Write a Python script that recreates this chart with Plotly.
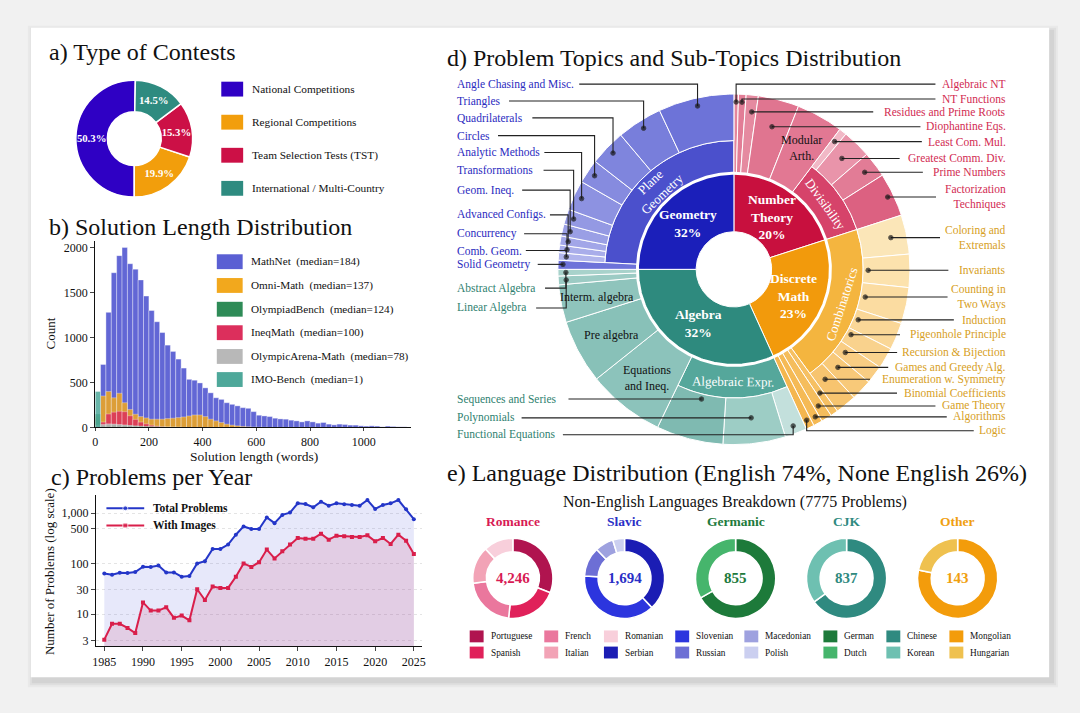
import math
import plotly.graph_objects as go

W, H = 1080, 713
SERIF = "Liberation Serif, Times New Roman, serif"

# ---------------- a) Type of Contests ----------------
contest_types = ["National Competitions", "Regional Competitions",
                 "Team Selection Tests (TST)", "International / Multi-Country"]
contest_share = [50.3, 19.9, 15.3, 14.5]
contest_colors = ["#2f00c4", "#f29e0c", "#cc1046", "#2e8b80"]

# ---------------- b) Solution Length Distribution (20-word bins from 0) ----------------
bin_width = 20
hist_sources = ["MathNet", "Omni-Math", "OlympiadBench", "IneqMath", "OlympicArena-Math", "IMO-Bench"]
hist_medians = [184, 137, 124, 100, 78, 1]
mathnet_counts = [90, 700, 1280, 1720, 1910, 2000, 1820, 1760, 1640, 1460,
                  1300, 1175, 1055, 915, 845, 760, 660, 535, 525, 495,
                  440, 385, 330, 312, 275, 257, 240, 220, 213, 176,
                  136, 128, 121, 103, 95, 92, 81, 73, 62, 73,
                  62, 48, 55, 37, 29, 37, 33, 26, 26, 18,
                  15, 18, 15, 7, 15, 11, 7, 7]
omni_counts = [120, 350, 400, 330, 380, 275, 200, 147, 121, 106,
               92, 92, 92, 99, 103, 110, 117, 128, 139, 139,
               121, 92, 73, 55, 37, 26, 18, 12, 8, 5, 3, 2]
olympiadbench_counts = [150, 20, 28, 30, 28, 26, 22, 18, 15, 12, 10, 8, 6, 5, 4, 3, 2]
ineqmath_counts = [10, 60, 150, 170, 180, 175, 130, 90, 60, 40, 25, 15, 8, 5, 3, 2]
olympicarena_counts = [25, 35, 40, 38, 32, 26, 20, 14, 9, 6, 4, 2]
imobench_counts = [400]
hist_colors = ["#5a5fd3", "#f2a81d", "#2e8b57", "#dc2f5c", "#b8b8b8", "#4ea89a"]

# ---------------- c) Problems per Year ----------------
years = list(range(1985, 2026))
total_problems = [64, 60, 66, 65, 68, 87, 86, 92, 67, 67,
                  55, 57, 101, 112, 196, 196, 239, 375, 547, 485,
                  485, 822, 636, 927, 1030, 1573, 1525, 1312, 1696, 1415,
                  1573, 1502, 1458, 1415, 1830, 1217, 1458, 1573, 1830, 1198, 762]
with_images = [3.1, 6.4, 6.4, 5.3, 4.2, 17, 11.7, 11.7, 13.6, 8.4,
               9.3, 7.5, 31, 19, 35, 33, 33, 55, 101, 86,
               107, 190, 127, 176, 239, 323, 313, 313, 392, 299,
               358, 348, 337, 337, 364, 277, 323, 246, 375, 286, 156]

# ---------------- d) Topics (arc sizes read off the picture) ----------------
topic_names = ["Number Theory", "Discrete Math", "Algebra", "Geometry"]
topic_text = ["Number<br>Theory<br>20%", "Discrete<br>Math<br>23%", "Algebra<br>32%", "Geometry<br>32%"]
sub_topics = ["Algebraic NT", "NT Functions", "Residues and Prime Roots", "Diophantine Eqs.",
              "Modular Arth.", "Least Com. Mul.", "Greatest Comm. Div.", "Prime Numbers",
              "Factorization Techniques",
              "Coloring and Extremals", "Invariants", "Counting in Two Ways", "Induction",
              "Pigeonhole Principle", "Recursion & Bijection", "Games and Greedy Alg.",
              "Enumeration w. Symmetry", "Binomial Coefficients", "Game Theory", "Algorithms", "Logic",
              "Functional Equations", "Polynomials", "Sequences and Series", "Equations and Ineq.",
              "Pre algebra", "Interm. algebra", "Linear Algebra", "Abstract Algebra",
              "Solid Geometry", "Comb. Geom.", "Concurrency", "Advanced Configs.", "Geom. Ineq.",
              "Transformations", "Analytic Methods", "Circles", "Quadrilaterals", "Triangles",
              "Angle Chasing and Misc."]
sub_parent = (["Number Theory"] * 9 + ["Discrete Math"] * 12 + ["Algebra"] * 8 + ["Geometry"] * 11)
sub_group = (["", "", "", "", ""] + ["Divisibility"] * 4
             + ["Combinatorics"] * 8 + ["", "", "", ""]
             + ["Algebraic Expr."] * 3 + ["", "", "", "", ""]
             + [""] + ["Plane Geometry"] * 10)
sub_size = [1.5, 2.5, 4, 13.5, 15.5, 2.5, 9.5, 8.5, 14.5,
            13, 11, 12, 9, 7, 6, 7, 7, 2.5, 3.5, 3, 2.7,
            7.3, 20.6, 22.1, 25.6, 21.1, 12.5, 2.9, 2.2,
            3, 2.5, 2.5, 3, 4, 5, 10, 8, 12, 15, 25]

# ---------------- e) Languages ----------------
lang_groups = ["Romance", "Slavic", "Germanic", "CJK", "Other"]
romance_langs = ["Portuguese", "Spanish", "French", "Italian", "Romanian"]
romance_counts = [1310, 885, 905, 640, 506]
slavic_langs = ["Serbian", "Slovenian", "Russian", "Macedonian", "Polish"]
slavic_counts = [645, 640, 202, 127, 80]
germanic_langs = ["German", "Dutch"]
germanic_counts = [572, 283]
cjk_langs = ["Chinese", "Korean"]
cjk_counts = [544, 293]
other_langs = ["Mongolian", "Hungarian"]
other_counts = [112, 31]

# ---------------- styles ----------------
topic_colors = {"Number Theory": "#c8103e", "Discrete Math": "#f29a0c",
                "Algebra": "#2e8a7e", "Geometry": "#1b1fba"}
group_colors = {"Divisibility": "#d6436a", "Combinatorics": "#f4b53f",
                "Algebraic Expr.": "#55a79b", "Plane Geometry": "#4b50cc"}
leaf_colors = ["#e4869c", "#e27d96", "#e58aa0", "#e07590", "#e27893", "#f1b8c6", "#e994aa",
               "#e27c96", "#dc6181",
               "#fbe6b8", "#fce2ad", "#fbdca1", "#fad797", "#f9d28d", "#f9cd83", "#f8c979",
               "#f7c46f", "#f6c063", "#f5bd5c", "#f5ba55", "#f4b64e",
               "#c3e0dc", "#9dcdc5", "#7fbab1", "#8cc3bb", "#88c1b8", "#8fc4bc", "#9ccbc4", "#a8d2cb",
               "#6d72d9", "#b0b4ec", "#a9adea", "#a2a6e8", "#9a9fe5", "#9499e3", "#8d92e1",
               "#868bdf", "#7f85dd", "#787edb", "#6d73d8"]
label_colors = {"Number Theory": "#d22b52", "Discrete Math": "#d7a024",
                "Algebra": "#2f7f70", "Geometry": "#2b2bc0"}
lang_colors = {"Portuguese": "#b0144f", "Spanish": "#e0215a", "French": "#ea779d",
               "Italian": "#f2a3b6", "Romanian": "#f8cfdb",
               "Serbian": "#1b1db4", "Slovenian": "#2c35de", "Russian": "#6d6fd5",
               "Macedonian": "#9ea1df", "Polish": "#cbcff0",
               "German": "#1d7a3a", "Dutch": "#46b56c", "Chinese": "#2f8a80", "Korean": "#6ec0b1",
               "Mongolian": "#f39c0b", "Hungarian": "#efc14f"}
group_title_colors = ["#d81b55", "#2a2fc6", "#217a3c", "#2f8a80", "#f0a010"]


def px_x(x):
    return x / W


def px_y(y):
    return 1 - y / H


def pie_domain(cx, cy, r):
    return dict(x=[px_x(cx - r), px_x(cx + r)], y=[px_y(cy + r), px_y(cy - r)])


def text_w(s, size):
    w = 0
    for ch in s:
        if ch in " .,:;'!|":
            w += 0.25
        elif ch in "iljft()[]-":
            w += 0.30
        elif ch in "mwMW":
            w += 0.80
        elif ch.isupper():
            w += 0.68
        else:
            w += 0.48
    return w * size


fig = go.Figure()
annotations = []
shapes = []


def label(x, y, text, size=11, color="#111", xanchor="left", bold=False, angle=0, align="left"):
    if bold:
        text = "<b>" + text.replace("<br>", "</b><br><b>") + "</b>"
    annotations.append(dict(x=x, y=y, xref="x3", yref="y3", text=text, showarrow=False,
                            xanchor=xanchor, yanchor="middle", textangle=angle, align=align,
                            font=dict(family=SERIF, size=size, color=color)))


def rect(x0, y0, x1, y1, color, layer="above", line=None):
    shapes.append(dict(type="rect", xref="paper", yref="paper",
                       x0=px_x(x0), x1=px_x(x1), y0=px_y(y1), y1=px_y(y0),
                       fillcolor=color, line=line or dict(width=0), layer=layer))


# card background with a soft shadow
for k, a in enumerate([0.03, 0.04, 0.05]):
    d = 6 - 2 * k
    rect(28 - d + 3, 28 - d + 4, 1052 + d + 3, 684 + d + 4, "rgba(0,0,0,%.2f)" % a, layer="below")
rect(28, 28, 1052, 684, "white", layer="below")

# ---------------- titles ----------------
label(44, 53, "a) Type of Contests", size=24)
label(44, 229, "b) Solution Length Distribution", size=24)
label(46, 482, "c) Problems per Year", size=24)
label(444, 59, "d) Problem Topics and Sub-Topics Distribution", size=24)
label(444, 478, "e) Language Distribution (English 74%, None English 26%)", size=24)

# ---------------- a) donut ----------------
fig.add_trace(go.Pie(labels=contest_types, values=contest_share, sort=False,
                     direction="counterclockwise", rotation=180, hole=0.46,
                     marker=dict(colors=contest_colors, line=dict(color="white", width=1.5)),
                     texttemplate="<b>%{value:.1f}%</b>", textposition="inside",
                     insidetextorientation="horizontal",
                     textfont=dict(family=SERIF, size=11.5, color="white"),
                     domain=pie_domain(132, 140, 59), showlegend=False))
for i, (name, col) in enumerate(zip(contest_types, contest_colors)):
    yc = 90 + i * 33.4
    rect(219.5, yc - 7.5, 241.5, yc + 7.5, col)
    label(248, yc, name, size=11.3)

# ---------------- b) histogram ----------------
draw_order = [0, 1, 3, 2, 4, 5]
for k in draw_order:
    counts = [mathnet_counts, omni_counts, olympiadbench_counts, ineqmath_counts,
              olympicarena_counts, imobench_counts][k]
    fig.add_trace(go.Bar(x=[bin_width * (i + 0.5) for i in range(len(counts))], y=counts,
                         width=bin_width, xaxis="x", yaxis="y", showlegend=False,
                         marker=dict(color=hist_colors[k], opacity=0.95 if k == 0 else 0.85,
                                     line=dict(color="rgba(255,255,255,0.6)", width=0.6))))
legend_b_y = [264.3, 288.3, 312.3, 336, 360, 383.3]
for name, med, col, yc in zip(hist_sources, hist_medians, hist_colors, legend_b_y):
    rect(215, yc - 7.5, 241, yc + 7.5, col)
    label(247, yc, "%s  (median=%d)" % (name, med), size=11.2)
label(48, 337, "Count", size=13, xanchor="center", angle=-90)
label(252, 461, "Solution length (words)", size=13.5, xanchor="center")

# ---------------- c) problems per year ----------------
fig.add_trace(go.Scatter(x=years, y=total_problems, mode="lines+markers", xaxis="x2", yaxis="y2",
                         line=dict(color="#2436c8", width=2), marker=dict(size=4),
                         fill="tozeroy", fillcolor="rgba(110,120,225,0.17)", showlegend=False))
fig.add_trace(go.Scatter(x=years, y=with_images, mode="lines+markers", xaxis="x2", yaxis="y2",
                         line=dict(color="#d91f4b", width=2), marker=dict(size=4, symbol="square"),
                         fill="tozeroy", fillcolor="rgba(200,70,120,0.17)", showlegend=False))
for yc, name, col, sym in [(513.3, "Total Problems", "#2436c8", "circle"),
                           (530.7, "With Images", "#d91f4b", "square")]:
    fig.add_trace(go.Scatter(x=[104, 123, 142], y=[yc, yc, yc], mode="lines+markers",
                             xaxis="x3", yaxis="y3", showlegend=False, hoverinfo="skip",
                             line=dict(color=col, width=2),
                             marker=dict(size=[0, 5, 0], symbol=sym, color=col)))
    label(149, yc, name, size=11.5, bold=True)
label(47, 577, "Number of Problems (log scale)", size=13, xanchor="center", angle=-90)

# ---------------- d) sunburst drawn on a pixel canvas ----------------
cx, cy = 735, 272
R0, R1, R2, R3 = 38, 97, 130, 177


def pt(theta, r):
    t = math.radians(theta)
    return cx + r * math.sin(t), cy - r * math.cos(t)


def wedge(a0, a1, r_in, r_out, color):
    n = max(3, int(abs(a1 - a0) * 1.5) + 2)
    angs = [a0 + (a1 - a0) * i / (n - 1) for i in range(n)]
    outer = [pt(a, r_out) for a in angs]
    inner = [pt(a, r_in) for a in reversed(angs)]
    ptsl = outer + inner + [outer[0]]
    fig.add_trace(go.Scatter(x=[p[0] for p in ptsl], y=[p[1] for p in ptsl], mode="lines",
                             fill="toself", fillcolor=color, xaxis="x3", yaxis="y3",
                             line=dict(color="white", width=1), showlegend=False,
                             hoverinfo="skip"))


total = sum(sub_size)
leaf_a0, leaf_a1 = [], []
acc = 0
for s in sub_size:
    leaf_a0.append(acc * 360 / total)
    acc += s
    leaf_a1.append(acc * 360 / total)


def span(keys, key):
    a0 = min(a for a, k in zip(leaf_a0, keys) if k == key)
    a1 = max(a for a, k in zip(leaf_a1, keys) if k == key)
    return a0, a1


def tangential(theta):
    t = theta % 360
    if 90 < t < 270:
        return t - 180
    return t if t <= 90 else t - 360


for name, txt in zip(topic_names, topic_text):
    a0, a1 = span(sub_parent, name)
    wedge(a0, a1, R0, R1, topic_colors[name])
    x, y = pt((a0 + a1) / 2, (R0 + R1) / 2 - 2)
    label(x, y, txt, size=13.5, color="white", xanchor="center", bold=True, align="center")

group_text = {"Plane Geometry": "Plane<br>Geometry", "Divisibility": "Divisibility",
              "Combinatorics": "Combinatorics", "Algebraic Expr.": "Algebraic Expr."}
for g in group_colors:
    a0, a1 = span(sub_group, g)
    wedge(a0, a1, R1, R2, group_colors[g])
    mid = (a0 + a1) / 2
    x, y = pt(mid, (R1 + R2) / 2)
    label(x, y, group_text[g], size=13, color="white", xanchor="center",
          angle=tangential(mid), align="center")

inside_text = {"Modular Arth.": "Modular<br>Arth.", "Equations and Ineq.": "Equations<br>and Ineq.",
               "Pre algebra": "Pre algebra", "Interm. algebra": "Interm. algebra"}
for i, name in enumerate(sub_topics):
    r_in = R2 if sub_group[i] else R1
    wedge(leaf_a0[i], leaf_a1[i], r_in, R3, leaf_colors[i])
    if name in inside_text:
        x, y = pt((leaf_a0[i] + leaf_a1[i]) / 2, (R1 + R3) / 2 + 3)
        label(x, y, inside_text[name], size=12, color="#111", xanchor="center", align="center")

# white ring between the topic ring and the outer rings
ring = [pt(a, R1) for a in range(0, 361)]
fig.add_trace(go.Scatter(x=[p[0] for p in ring], y=[p[1] for p in ring], mode="lines",
                         line=dict(color="white", width=3), xaxis="x3", yaxis="y3",
                         showlegend=False, hoverinfo="skip"))

# outside labels with leader lines
left_label_y = {"Angle Chasing and Misc.": 85, "Triangles": 102, "Quadrilaterals": 119,
                "Circles": 137, "Analytic Methods": 154, "Transformations": 172,
                "Geom. Ineq.": 192, "Advanced Configs.": 217, "Concurrency": 236,
                "Comb. Geom.": 253, "Solid Geometry": 267, "Abstract Algebra": 291,
                "Linear Algebra": 311, "Sequences and Series": 403, "Polynomials": 422,
                "Functional Equations": 439}
right_label_y = {"Algebraic NT": 85, "NT Functions": 100, "Residues and Prime Roots": 113,
                 "Diophantine Eqs.": 128, "Least Com. Mul.": 143, "Greatest Comm. Div.": 160,
                 "Prime Numbers": 174, "Factorization Techniques": 199,
                 "Coloring and Extremals": 240, "Invariants": 273, "Counting in Two Ways": 300,
                 "Induction": 323, "Pigeonhole Principle": 338, "Recursion & Bijection": 356,
                 "Games and Greedy Alg.": 371, "Enumeration w. Symmetry": 383,
                 "Binomial Coefficients": 397, "Game Theory": 410, "Algorithms": 421, "Logic": 435}
multi_line = {"Factorization Techniques": "Factorization<br>Techniques",
              "Coloring and Extremals": "Coloring and<br>Extremals",
              "Counting in Two Ways": "Counting in<br>Two Ways"}
LEFT_X, RIGHT_X, LFS = 455, 1011, 11.5

for i, name in enumerate(sub_topics):
    if name in inside_text:
        continue
    left = name in left_label_y
    ylab = left_label_y[name] if left else right_label_y[name]
    txt = multi_line.get(name, name)
    tw = max(text_w(s, LFS) for s in txt.split("<br>"))
    col = label_colors[sub_parent[i]]
    if left:
        label(LEFT_X, ylab, txt, size=LFS, color=col)
        x_start = LEFT_X + tw + 6
    else:
        label(RIGHT_X, ylab, txt, size=LFS, color=col, xanchor="right", align="right")
        x_start = RIGHT_X - tw - 7
    a0, a1 = leaf_a0[i], leaf_a1[i]
    r_in = R2 if sub_group[i] else R1
    mid = (a0 + a1) / 2
    marg = min(1.0, (a1 - a0) * 0.25)
    dy_up = cy - ylab
    best = None
    r = R3 - 5
    while r >= r_in + 5:
        c = dy_up / r
        if abs(c) <= 1:
            th = math.degrees(math.acos(c))
            if mid > 180:
                th = 360 - th
            if a0 + marg <= th <= a1 - marg:
                if best is None or abs(th - mid) < abs(best[0] - mid):
                    best = (th, r)
        r -= 1
    if best:
        dx, dy = pt(*best)
        xs, ys = [x_start, dx], [ylab, ylab]
    else:
        dx, dy = pt(mid, R3 - 8)
        xs, ys = [x_start, dx, dx], [ylab, ylab, dy]
    fig.add_trace(go.Scatter(x=xs, y=ys, mode="lines+markers", xaxis="x3", yaxis="y3",
                             line=dict(color="#222", width=1.1),
                             marker=dict(size=[0] * (len(xs) - 1) + [4.5], color="#111"),
                             showlegend=False, hoverinfo="skip"))

# ---------------- e) language donuts ----------------
lang_sets = [(romance_langs, romance_counts), (slavic_langs, slavic_counts),
             (germanic_langs, germanic_counts), (cjk_langs, cjk_counts),
             (other_langs, other_counts)]
donut_x = [512.7, 625, 736.7, 848.3, 960]
donut_y, donut_r = 584, 40.5
all_counts = sum(sum(c) for _, c in lang_sets)
label(736, 507, "Non-English Languages Breakdown (%d Problems)" % all_counts, size=16,
      xanchor="center")
for (langs, counts), gname, gcol, x in zip(lang_sets, lang_groups, group_title_colors, donut_x):
    fig.add_trace(go.Pie(labels=langs, values=counts, sort=False, direction="clockwise",
                         hole=0.66, textinfo="none", showlegend=False,
                         marker=dict(colors=[lang_colors[l] for l in langs],
                                     line=dict(color="white", width=1.5)),
                         domain=pie_domain(x, donut_y, donut_r)))
    label(x, 526.5, gname, size=13.5, color=gcol, xanchor="center", bold=True)
    label(x, donut_y, "{:,}".format(sum(counts)), size=15, color=gcol, xanchor="center", bold=True)

all_langs = [l for langs, _ in lang_sets for l in langs]
legend_e_x = [469.3, 544.3, 604.3, 676, 745.5, 825, 888.3, 951.7]
for k, lang in enumerate(all_langs):
    x = legend_e_x[k // 2]
    yc = 642.7 if k % 2 == 0 else 659
    rect(x, yc - 6, x + 14, yc + 6, lang_colors[lang])
    label(x + 19, yc, lang, size=9.3)

# ---------------- layout ----------------
tick_font = dict(family=SERIF, size=12, color="#111")
fig.update_layout(
    width=W, height=H, margin=dict(l=0, r=0, t=0, b=0),
    paper_bgcolor="#f1f1f1", plot_bgcolor="rgba(0,0,0,0)",
    barmode="overlay", font=dict(family=SERIF, color="#111"),
    xaxis=dict(domain=[px_x(92.7), px_x(410)], range=[0, 1175], anchor="y",
               tickvals=[0, 200, 400, 600, 800, 1000], showline=True, linecolor="#111",
               ticks="outside", ticklen=3, showgrid=False, zeroline=False, tickfont=tick_font),
    yaxis=dict(domain=[px_y(431.7), px_y(243)], range=[0, 2077], anchor="x",
               tickvals=[0, 500, 1000, 1500, 2000], showline=True, linecolor="#111",
               ticks="outside", ticklen=4, showgrid=False, zeroline=False, tickfont=tick_font),
    xaxis2=dict(domain=[px_x(93.3), px_x(421.7)], range=[1983.9, 2026.1], anchor="y2",
                tickvals=list(range(1985, 2026, 5)), showline=True, linecolor="#111",
                ticks="outside", ticklen=4, showgrid=False, zeroline=False, tickfont=tick_font),
    yaxis2=dict(domain=[px_y(652.7), px_y(500)], type="log", range=[0.36, 3.36], anchor="x2",
                tickvals=[3, 10, 30, 100, 500, 1000],
                ticktext=["3", "10", "30", "100", "500", "1,000"], showline=True,
                linecolor="#111", ticks="outside", ticklen=4, showgrid=True,
                gridcolor="#e4e4e4", griddash="dot", zeroline=False, tickfont=tick_font),
    xaxis3=dict(domain=[0, 1], range=[0, W], anchor="y3", visible=False, fixedrange=True),
    yaxis3=dict(domain=[0, 1], range=[H, 0], anchor="x3", visible=False, fixedrange=True),
    annotations=annotations, shapes=shapes, showlegend=False,
)

fig.write_html("out.html", config={"displayModeBar": False},
               post_script="document.body.style.margin='0';")
